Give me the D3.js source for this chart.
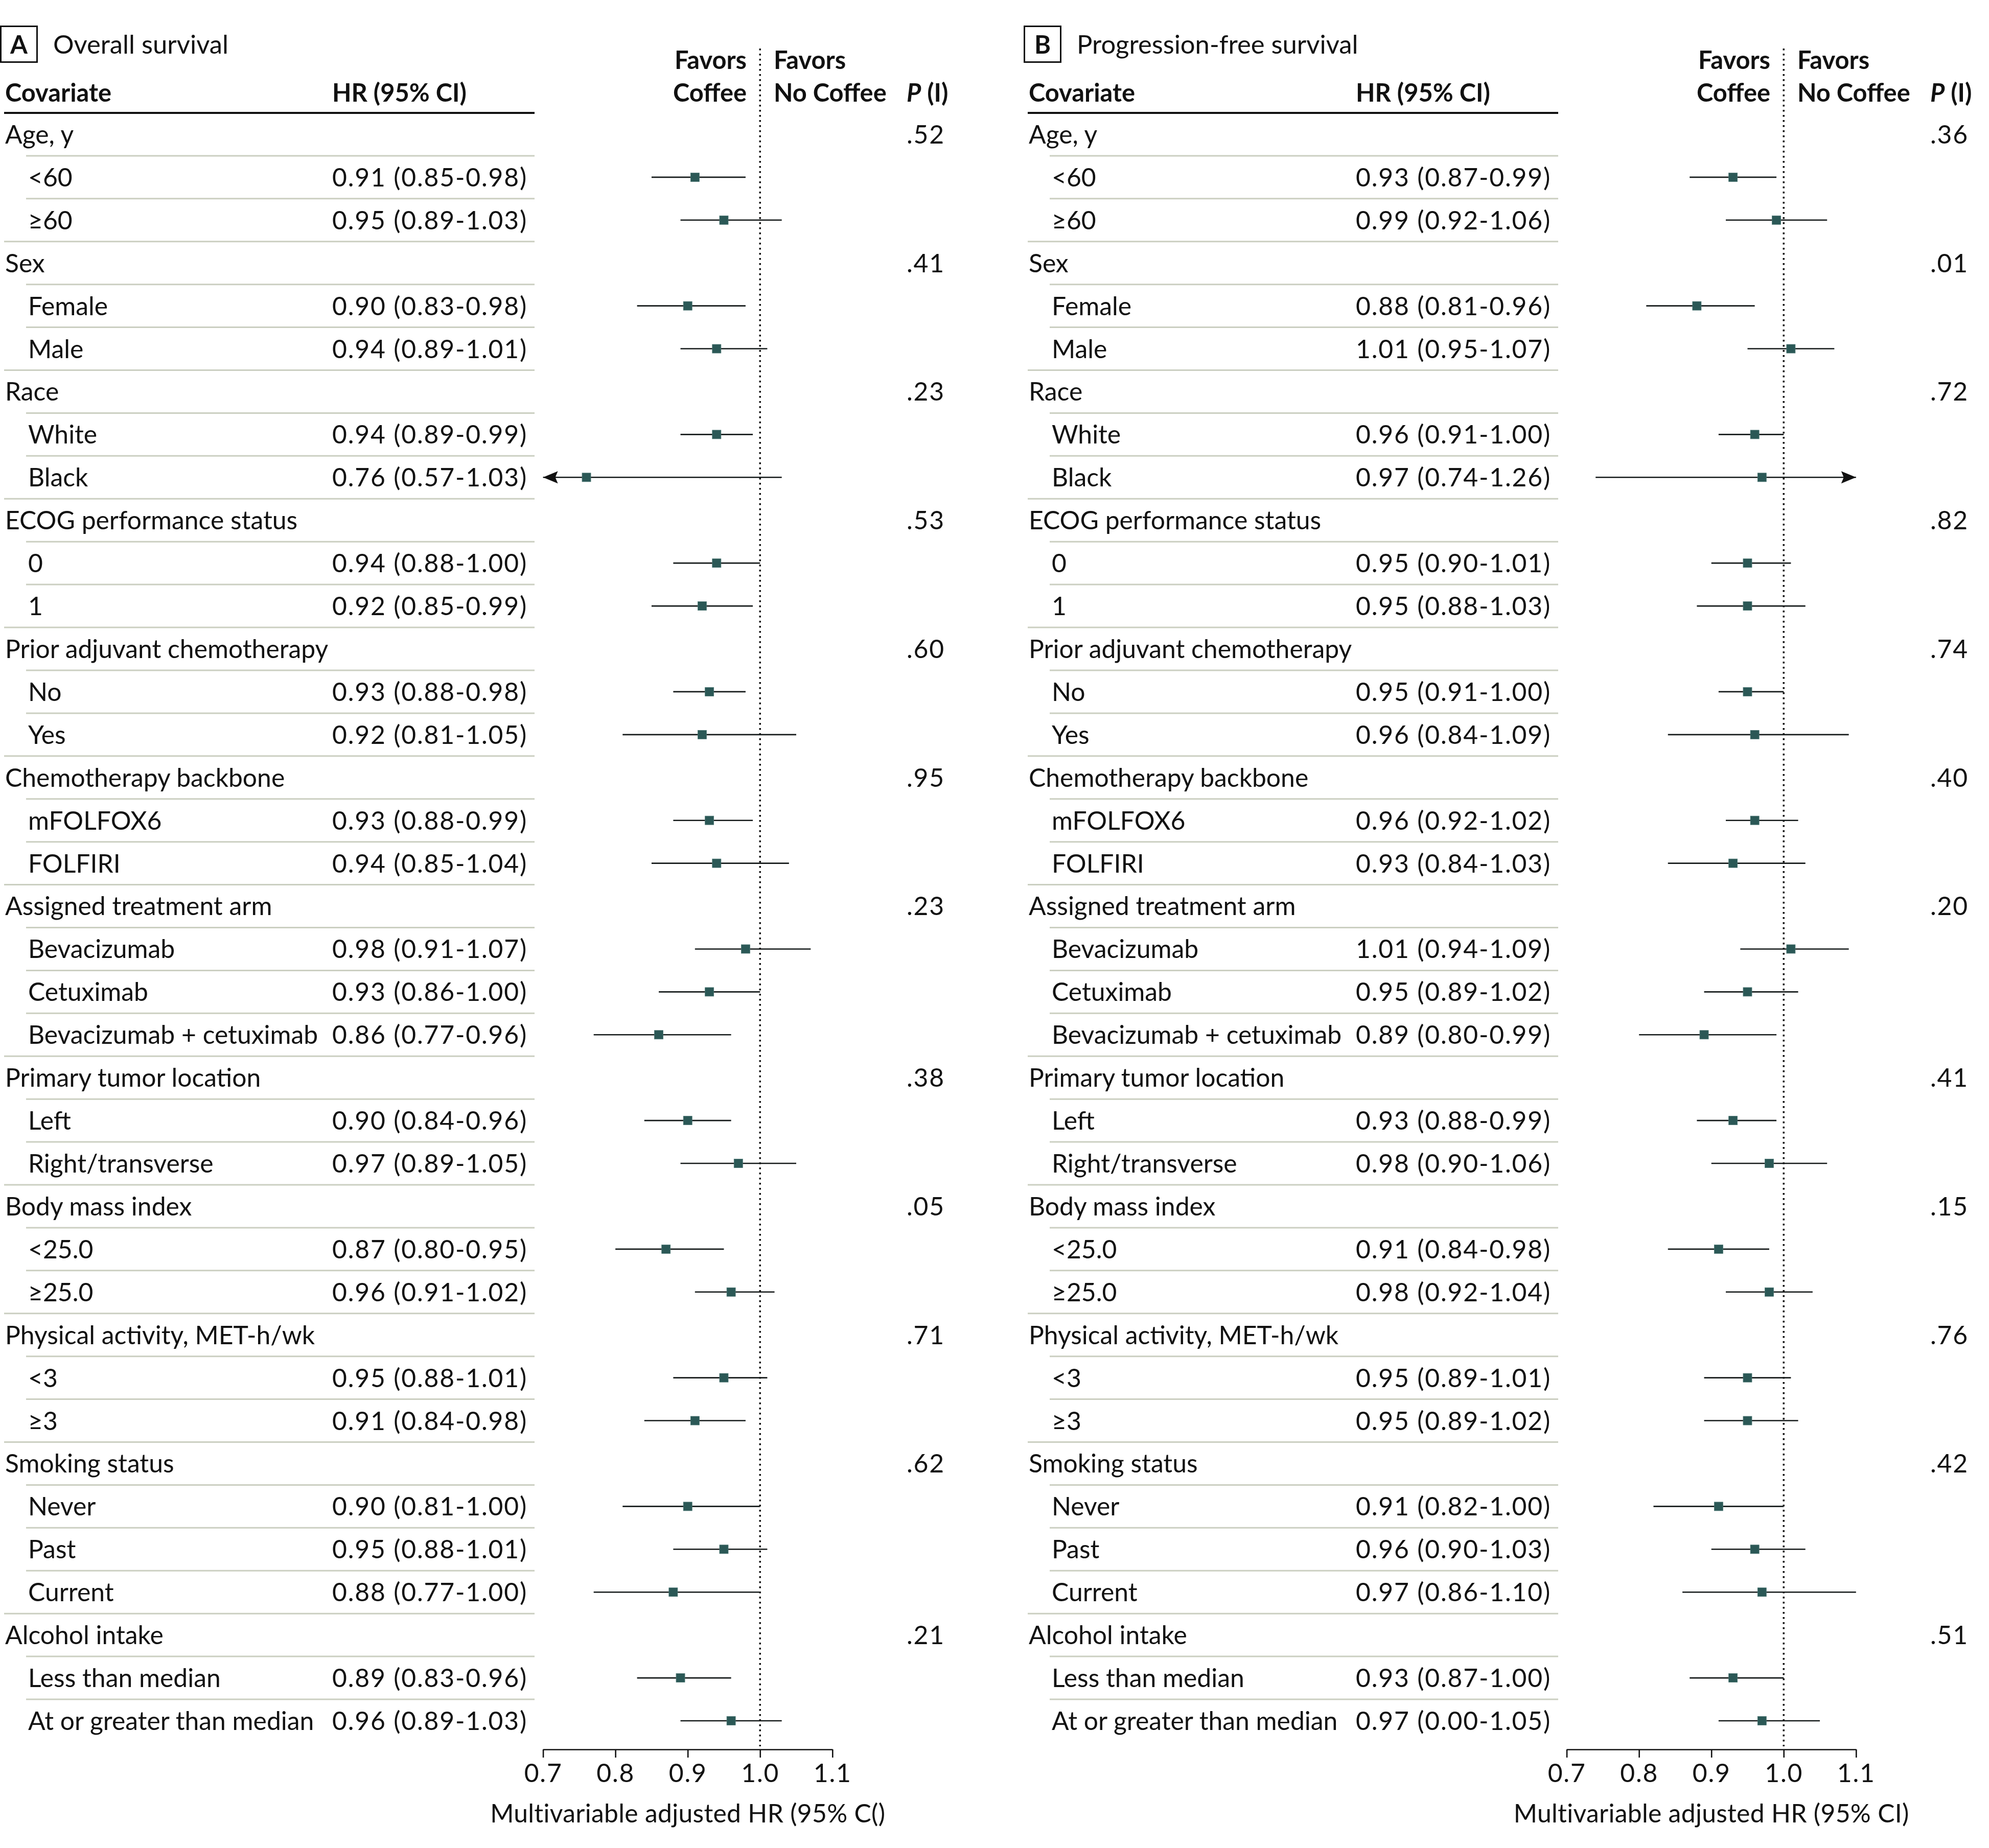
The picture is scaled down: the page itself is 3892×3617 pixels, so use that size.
<!DOCTYPE html>
<html><head><meta charset="utf-8">
<script src="https://cdn.jsdelivr.net/npm/d3@7"></script>
<style>html,body{margin:0;padding:0;background:#fff;} svg{display:block;}</style>
</head><body>
<script>
// ---------------- DATA ----------------
const labels = ["Age, y","<60","\u226560","Sex","Female","Male","Race","White","Black",
  "ECOG performance status","0","1","Prior adjuvant chemotherapy","No","Yes",
  "Chemotherapy backbone","mFOLFOX6","FOLFIRI","Assigned treatment arm","Bevacizumab",
  "Cetuximab","Bevacizumab + cetuximab","Primary tumor location","Left","Right/transverse",
  "Body mass index","<25.0","\u226525.0","Physical activity, MET-h/wk","<3","\u22653",
  "Smoking status","Never","Past","Current","Alcohol intake","Less than median",
  "At or greater than median"];
const groupRows = [0,3,6,9,12,15,18,22,25,28,31,35];

const hrA = [null,0.91,0.95,null,0.90,0.94,null,0.94,0.76,null,0.94,0.92,null,0.93,0.92,null,0.93,0.94,null,0.98,0.93,0.86,null,0.90,0.97,null,0.87,0.96,null,0.95,0.91,null,0.90,0.95,0.88,null,0.89,0.96];
const loA = [null,0.85,0.89,null,0.83,0.89,null,0.89,0.57,null,0.88,0.85,null,0.88,0.81,null,0.88,0.85,null,0.91,0.86,0.77,null,0.84,0.89,null,0.80,0.91,null,0.88,0.84,null,0.81,0.88,0.77,null,0.83,0.89];
const hiA = [null,0.98,1.03,null,0.98,1.01,null,0.99,1.03,null,1.00,0.99,null,0.98,1.05,null,0.99,1.04,null,1.07,1.00,0.96,null,0.96,1.05,null,0.95,1.02,null,1.01,0.98,null,1.00,1.01,1.00,null,0.96,1.03];
const pA = [".52",".41",".23",".53",".60",".95",".23",".38",".05",".71",".62",".21"];

const hrB = [null,0.93,0.99,null,0.88,1.01,null,0.96,0.97,null,0.95,0.95,null,0.95,0.96,null,0.96,0.93,null,1.01,0.95,0.89,null,0.93,0.98,null,0.91,0.98,null,0.95,0.95,null,0.91,0.96,0.97,null,0.93,0.97];
const loB = [null,0.87,0.92,null,0.81,0.95,null,0.91,0.74,null,0.90,0.88,null,0.91,0.84,null,0.92,0.84,null,0.94,0.89,0.80,null,0.88,0.90,null,0.84,0.92,null,0.89,0.89,null,0.82,0.90,0.86,null,0.87,0.91];
const hiB = [null,0.99,1.06,null,0.96,1.07,null,1.00,1.26,null,1.01,1.03,null,1.00,1.09,null,1.02,1.03,null,1.09,1.02,0.99,null,0.99,1.06,null,0.98,1.04,null,1.01,1.02,null,1.00,1.03,1.10,null,1.00,1.05];
const pB = [".36",".01",".72",".82",".74",".40",".20",".41",".15",".76",".42",".51"];
// printed CI text as it appears in the source (one printed lower bound differs from the plotted one)
const ciTextOverrideB = {37: "0.97 (0.00-1.05)"};

const tickValues = [0.7,0.8,0.9,1.0,1.1];
const axisTitleA = "Multivariable adjusted HR (95% C()";
const axisTitleB = "Multivariable adjusted HR (95% CI)";

// ---------------- LAYOUT ----------------
const W = 3892, H = 3617;
const FONT = "Lato, 'Open Sans', 'Liberation Sans', sans-serif";
const ROWH = 83.92, ROWTOP = 221;
const svg = d3.select("body").append("svg").attr("width", W).attr("height", H).attr("viewBox", `0 0 ${W} ${H}`);
svg.append("rect").attr("width", W).attr("height", H).attr("fill", "#fff");

function measure(str, weight, size) {
  const t = svg.append("text").attr("font-family", FONT).attr("font-weight", weight).attr("font-size", size).text(str);
  const w = t.node().getComputedTextLength(); t.remove(); return w;
}
function clamp(v, a, b) { return Math.max(a, Math.min(b, v)); }
const fitStrings = ["Primary tumor location","Bevacizumab + cetuximab","ECOG performance status","Physical activity, MET-h/wk","Prior adjuvant chemotherapy"];
const fitTarget = 514 + 551 + 563 + 611 + 640;
const fsBody = clamp(100 * fitTarget / d3.sum(fitStrings, s => measure(s, 400, 100)), 40, 62);
const fsBold = clamp(100 * 208 / measure("Covariate", 700, 100), 40, 62);
const fsTitle = clamp(100 * 343 / measure("Overall survival", 400, 100), 40, 62);
const axW = measure(axisTitleA, 400, fsBody);
const axLS = clamp((774 - axW) / axisTitleA.length, -3, 3);
const ciW = measure("0.91 (0.85-0.98)", 400, fsBody);
const ciLS = clamp((382 - ciW) / 16, -2, 6);
const capOff = fs => fs * 0.36;

const fmt = d3.format(".2f");

function panel(offX, letter, title, hr, lo, hi, pvals, override, axisTitle) {
  const g = svg.append("g").attr("transform", `translate(${offX},0)`);
  const x = d3.scaleLinear().domain([0.7, 1.1]).range([1062.6, 1628.8]);
  const yc = i => ROWTOP + (i + 0.5) * ROWH;
  const isGroup = i => groupRows.includes(i);

  // panel letter box + title
  g.append("rect").attr("x", 1.5).attr("y", 51.5).attr("width", 71).attr("height", 70)
    .attr("fill", "none").attr("stroke", "#111").attr("stroke-width", 3);
  g.append("text").attr("x", 37).attr("y", 87 + capOff(fsBold)).attr("text-anchor", "middle")
    .attr("font-family", FONT).attr("font-weight", 700).attr("font-size", fsBold).attr("fill", "#111").text(letter);
  g.append("text").attr("x", 104).attr("y", 87 + capOff(fsTitle))
    .attr("font-family", FONT).attr("font-size", fsTitle).attr("fill", "#111").text(title);

  // column headers
  const hdr = (txt, xx, yy, anchor) => g.append("text").attr("x", xx).attr("y", yy).attr("text-anchor", anchor || "start")
    .attr("font-family", FONT).attr("font-weight", 700).attr("font-size", fsBold).attr("fill", "#111").text(txt);
  hdr("Covariate", 10, 199);
  hdr("HR (95% CI)", 650, 199);
  hdr("Favors", 1461, 135, "end");
  hdr("Coffee", 1461, 199, "end");
  hdr("Favors", 1514, 135);
  hdr("No Coffee", 1514, 199);
  const pt = g.append("text").attr("x", 1774).attr("y", 199).attr("font-family", FONT)
    .attr("font-weight", 700).attr("font-size", fsBold).attr("fill", "#111");
  pt.append("tspan").attr("font-style", "italic").text("P");
  pt.append("tspan").text(" (I)");

  // header rule
  g.append("line").attr("x1", 8).attr("x2", 1046).attr("y1", ROWTOP).attr("y2", ROWTOP)
    .attr("stroke", "#111").attr("stroke-width", 4);

  // separators
  const idx = d3.range(labels.length);
  g.selectAll("line.sep").data(idx.slice(0, -1)).join("line").attr("class", "sep")
    .attr("x1", i => isGroup(i + 1) ? 8 : 51).attr("x2", 1046)
    .attr("y1", i => ROWTOP + (i + 1) * ROWH).attr("y2", i => ROWTOP + (i + 1) * ROWH)
    .attr("stroke", "#cbcfc1").attr("stroke-width", 3);

  // row labels
  g.selectAll("text.lab").data(idx).join("text").attr("class", "lab")
    .attr("x", i => isGroup(i) ? 10 : 55).attr("y", i => yc(i) + capOff(fsBody))
    .attr("font-family", FONT).attr("font-size", fsBody).attr("fill", "#111").text(i => labels[i]);

  // CI text
  const subs = idx.filter(i => !isGroup(i));
  g.selectAll("text.ci").data(subs).join("text").attr("class", "ci")
    .attr("x", 650).attr("y", i => yc(i) + capOff(fsBody)).attr("letter-spacing", ciLS)
    .attr("font-family", FONT).attr("font-size", fsBody).attr("fill", "#111")
    .text(i => override[i] || `${fmt(hr[i])} (${fmt(lo[i])}-${fmt(hi[i])})`);

  // P values
  g.selectAll("text.pv").data(groupRows).join("text").attr("class", "pv")
    .attr("x", 1774).attr("y", i => yc(i) + capOff(fsBody)).attr("letter-spacing", ciLS)
    .attr("font-family", FONT).attr("font-size", fsBody).attr("fill", "#111")
    .text((i, k) => pvals[k]);

  // reference dotted line at HR = 1
  g.append("line").attr("x1", x(1)).attr("x2", x(1)).attr("y1", 95).attr("y2", 3418)
    .attr("stroke", "#111").attr("stroke-width", 3.5).attr("stroke-dasharray", "3.5,6.5");

  // CI lines
  const [d0, d1] = x.domain();
  g.selectAll("line.ci").data(subs).join("line").attr("class", "ci")
    .attr("x1", i => x(Math.max(lo[i], d0))).attr("x2", i => x(Math.min(hi[i], d1)))
    .attr("y1", yc).attr("y2", yc).attr("stroke", "#151a1a").attr("stroke-width", 2.6);

  // arrows for clipped intervals
  const arrow = (tipX, cy, dir) => {
    const L = 29, h = 12, n = 24;
    return `M${tipX},${cy} L${tipX + dir * L},${cy - h} L${tipX + dir * n},${cy} L${tipX + dir * L},${cy + h} Z`;
  };
  g.selectAll("path.la").data(subs.filter(i => lo[i] < d0)).join("path").attr("class", "la")
    .attr("d", i => arrow(x(d0), yc(i), 1)).attr("fill", "#111");
  g.selectAll("path.ra").data(subs.filter(i => hi[i] > d1)).join("path").attr("class", "ra")
    .attr("d", i => arrow(x(d1), yc(i), -1)).attr("fill", "#111");

  // point estimates
  const S = 17;
  g.selectAll("rect.pt").data(subs).join("rect").attr("class", "pt")
    .attr("x", i => x(hr[i]) - S / 2).attr("y", i => yc(i) - S / 2).attr("width", S).attr("height", S)
    .attr("fill", "#2b5856").attr("stroke", "#4d7774").attr("stroke-width", 0.8);

  // axis
  const ax = g.append("g").attr("transform", "translate(0,3424)")
    .call(d3.axisBottom(x).tickValues(tickValues).tickFormat(d3.format(".1f")).tickSize(16).tickSizeOuter(0).tickPadding(13));
  ax.select(".domain").attr("stroke", "#111").attr("stroke-width", 2.6);
  ax.selectAll(".tick line").attr("stroke", "#111").attr("stroke-width", 2.6);
  ax.selectAll(".tick text").attr("font-family", FONT).attr("font-size", fsBody).attr("fill", "#111").attr("letter-spacing", ciLS);

  g.append("text").attr("x", x(0.9)).attr("y", 3567).attr("text-anchor", "middle")
    .attr("letter-spacing", axLS)
    .attr("font-family", FONT).attr("font-size", fsBody).attr("fill", "#111").text(axisTitle);
}

panel(0, "A", "Overall survival", hrA, loA, hiA, pA, {}, axisTitleA);
panel(2003, "B", "Progression-free survival", hrB, loB, hiB, pB, ciTextOverrideB, axisTitleB);
</script>
</body></html>
